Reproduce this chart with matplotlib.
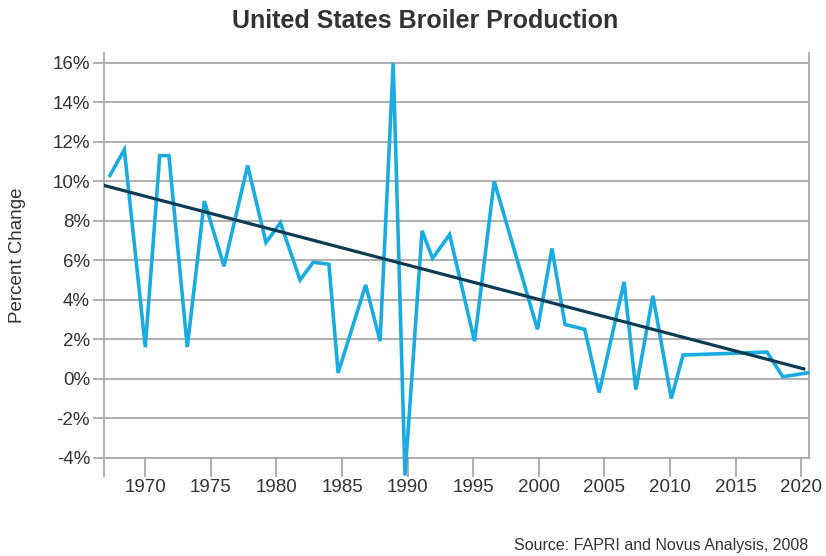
import matplotlib.pyplot as plt
from matplotlib.ticker import FuncFormatter

# values
years = [1967.3, 1968.4, 1970.0, 1971.1, 1971.8, 1973.2, 1974.5, 1976.0, 1977.8,
         1979.2, 1980.3, 1981.8, 1982.8, 1984.0, 1984.7, 1986.8, 1987.9, 1988.9,
         1989.8, 1991.1, 1991.9, 1993.2, 1995.1, 1996.6, 1999.9, 2001.0, 2002.0,
         2003.5, 2004.6, 2006.5, 2007.4, 2008.7, 2010.1, 2011.0, 2017.4, 2018.6,
         2020.5]
pct_change = [10.3, 11.6, 1.6, 11.3, 11.3, 1.6, 9.0, 5.7, 10.8,
              6.9, 7.9, 5.0, 5.9, 5.8, 0.3, 4.75, 1.9, 16.0,
              -4.9, 7.5, 6.1, 7.3, 1.9, 10.0, 2.5, 6.6, 2.75,
              2.5, -0.7, 4.9, -0.55, 4.2, -1.0, 1.2, 1.35, 0.1,
              0.3]

trend_years = [1966.8, 2020.2]
trend_vals = [9.8, 0.5]

tick_years = [1970, 1975, 1980, 1985, 1990, 1995, 2000, 2005, 2010, 2015, 2020]
y_ticks = list(range(-4, 17, 2))

plt.rcParams['font.family'] = ['Liberation Sans', 'DejaVu Sans']
grey = '#a9a9a9'

fig = plt.figure(figsize=(8.26, 5.56), dpi=100)
ax = fig.add_axes([0.1259, 0.1768, 0.8535, 0.7279])

ax.set_xlim(1966.85, 2020.6)
ax.set_ylim(-4, 16.5)

for v in y_ticks:
    ax.axhline(v, color=grey, lw=1.3, zorder=1)

ax.plot(years, pct_change, color='#1aace0', lw=2.6, zorder=3, clip_on=False,
        solid_joinstyle='miter')
ax.plot(trend_years, trend_vals, color='#0e3b54', lw=2.3, zorder=4)

ax.spines['top'].set_visible(False)
for s in ['left', 'right', 'bottom']:
    ax.spines[s].set_color(grey)
    ax.spines[s].set_linewidth(1.3)

ax.set_xticks(tick_years)
ax.set_xticks([ax.get_xlim()[0]], minor=True)
ax.tick_params(axis='x', which='both', length=14, width=1.3, color=grey,
               labelsize=13.5, labelcolor='#333333', pad=1)
ax.set_yticks(y_ticks)
ax.yaxis.set_major_formatter(FuncFormatter(lambda v, p: '%d%%' % v))
ax.tick_params(axis='y', length=8, width=1.3, color=grey,
               labelsize=13.5, labelcolor='#333333', pad=2)

ax.set_ylabel('Percent Change', fontsize=13.5, color='#333333', labelpad=19)
fig.text(0.515, 0.963, 'United States Broiler Production', ha='center', va='center',
         fontsize=18, fontweight='bold', color='#333333')
fig.text(0.978, 0.018, 'Source: FAPRI and Novus Analysis, 2008', ha='right',
         va='center', fontsize=11.5, color='#333333')

fig.savefig('out.png', dpi=100)
